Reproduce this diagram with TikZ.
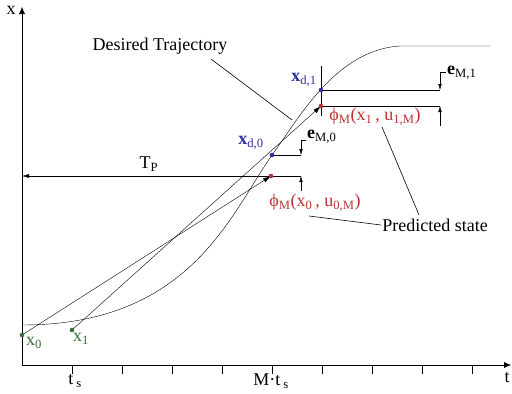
\documentclass[tikz,border=0pt]{standalone}
\usepackage{fontspec}
\setmainfont{Liberation Serif}
\usetikzlibrary{arrows.meta}

\definecolor{dblue}{RGB}{45,45,165}
\definecolor{dred}{RGB}{185,50,50}
\definecolor{dgreen}{RGB}{60,110,60}

\begin{document}
\begin{tikzpicture}[
    x=1pt, y=-1pt,
    every node/.style={font=\fontsize{18}{20}\selectfont,inner sep=1pt},
    spot/.style={circle,fill,inner sep=0pt,minimum size=4.5pt},
    axis/.style={-{Latex[length=7pt,width=6pt]}},
    push/.style={-{Latex[length=8pt,width=4.5pt]}},
    err/.style={-{Latex[length=6pt,width=3.5pt]}},
    lead/.style={line width=0.6pt}
]
\useasboundingbox (0,0) rectangle (512,394);

% axes
\coordinate (o) at (22,365);
\coordinate (tend) at (511,365);
\coordinate (xend) at (22,7);
\draw[axis] (o) -- (tend);
\draw[axis] (o) -- (xend);
\node (xlab) at (11,10) {x};
\node (tlab) at (507,378) {t};
\foreach \k in {0,...,8}
    \draw (72+50*\k,365) -- (72+50*\k,374);
\node (ts) at (75,381) {t\,\textsubscript{s}};
\node (Mts) at (271,381) {M·t\,\textsubscript{s}};

% points
\coordinate (c0) at (22,325);
\coordinate (x0) at (22,335);
\coordinate (x1) at (72,330);
\coordinate (xd0) at (272,155);
\coordinate (xd1) at (321,90);
\coordinate (p0) at (271,176);
\coordinate (p1) at (321,106);
\coordinate (c1) at (400,46);
\coordinate (c2) at (490,46);

% desired trajectory
\draw (c0) .. controls (190,325) and (230,215) .. (xd0)
    .. controls (298,120) and (335,50) .. (c1) -- (c2);

% predictions
\draw[push] (x0) -- (p0);
\draw[push] (x1) -- (p1);
\draw[-{Latex[length=7pt,width=4pt]}] (p0) -- (22,176);
\node (Tp) at (149,164) {T\textsubscript{P}};
\draw (321,66) -- (321,116);

% errors
\coordinate (e0a) at (301,155);
\coordinate (e0b) at (301,176);
\coordinate (e1a) at (440,90);
\coordinate (e1b) at (440,106);
\draw (xd0) -- (e0a);
\draw (p0) -- (e0b);
\draw (xd1) -- (e1a);
\draw (p1) -- (e1b);
\node[anchor=west] (eM0) at (306,137) {\textbf{e}\textsubscript{M,0}};
\node[anchor=west] (eM1) at (446,73) {\textbf{e}\textsubscript{M,1}};
\draw[err] (eM0.west |- 0,140) -| (e0a);
\draw[err] (301,191) -- (e0b);
\draw[err] (eM1.west |- 0,72) -| (e1a);
\draw[err] (440,126) -- (e1b);

% dots
\fill[dgreen] (x0) circle (2.3);
\fill[dgreen] (x1) circle (2.3);
\fill[dblue] (xd0) circle (2.3);
\fill[dblue] (xd1) circle (2.3);
\fill[dred] (p0) circle (2.3);
\fill[dred] (p1) circle (2.3);

% labels
\node[dgreen] (lx0) at (34,343) {x\textsubscript{0}};
\node[dgreen] (lx1) at (81,339) {x\textsubscript{1}};
\node[dblue] (lxd0) at (251,143) {\textbf{x}\textsubscript{d,0}};
\node[dblue] (lxd1) at (304,80) {\textbf{x}\textsubscript{d,1}};
\node[dred] (lp0) at (315,203) {ϕ\textsubscript{M}(x\textsubscript{0}\,, u\textsubscript{0,M})};
\node[dred] (lp1) at (375,117) {ϕ\textsubscript{M}(x\textsubscript{1}\,, u\textsubscript{1,M})};
\node (dt) at (160,46) {Desired Trajectory};
\node (ps) at (435,225) {Predicted state};

% leaders
\coordinate (dtend) at (292,120);
\draw[lead] (211,59) -- (dtend);
\draw[lead] (309,216) -- (ps.west);
\draw[lead] (382,127) -- (419,215);
\end{tikzpicture}
\end{document}
